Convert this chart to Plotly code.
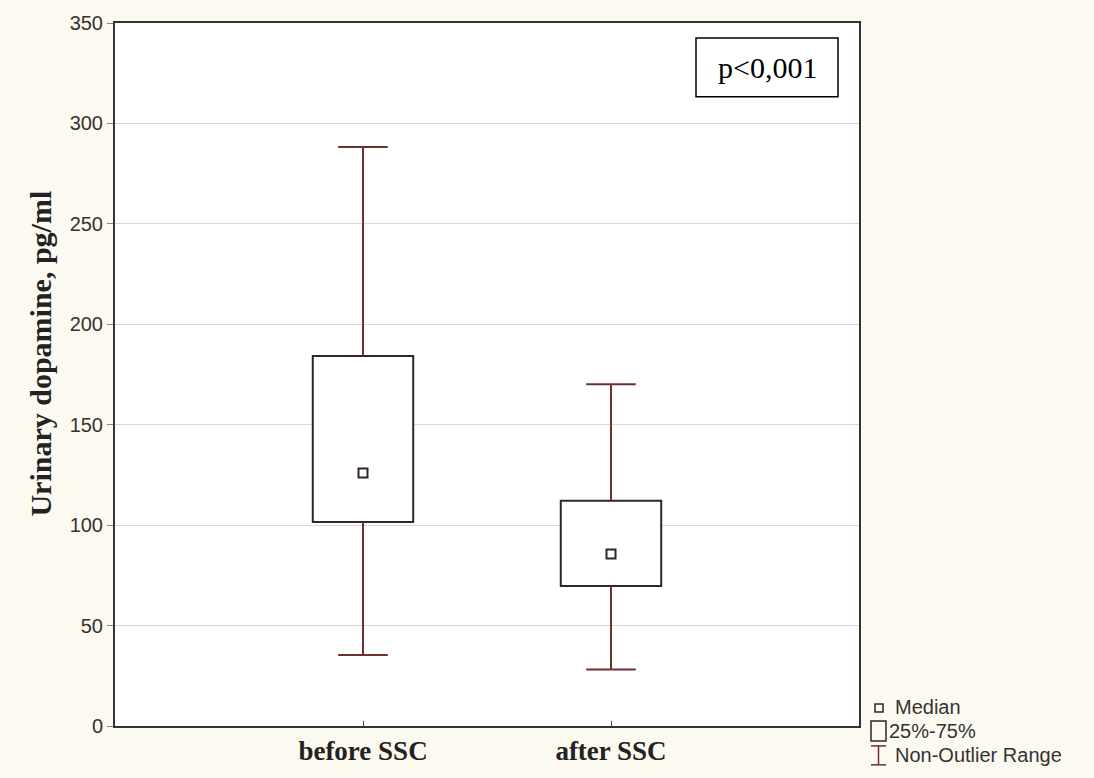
import plotly.graph_objects as go

# Urinary dopamine (pg/ml) before and after SSC
groups = ["before SSC", "after SSC"]
positions = [1, 2]
lower = [35.3, 28.1]     # non-outlier minimum
q1 = [101.6, 69.7]       # 25th percentile
median = [125.9, 85.6]
q3 = [184.2, 112.1]      # 75th percentile
upper = [288.3, 170.2]   # non-outlier maximum

y_ticks = [0, 50, 100, 150, 200, 250, 300, 350]

BOX_W = 0.405
CAP_HALF = 0.1
BOX_COLOR = "#302626"
WHISK_COLOR = "#6e2f2f"
BG = "#fcf9f0"

# plot area in pixels (for paper-coordinate decorations)
L, R, T, B = 115, 859, 23, 729
W, H = 1094, 778


def px(x):
    return (x - L) / (R - L)


def py(y):
    return (B - y) / (B - T)


fig = go.Figure()

# whisker stems and caps
wx, wy = [], []
for p, lo, a, b, hi in zip(positions, lower, q1, q3, upper):
    wx += [p, p, None, p, p, None,
           p - CAP_HALF, p + CAP_HALF, None, p - CAP_HALF, p + CAP_HALF, None]
    wy += [b, hi, None, a, lo, None, hi, hi, None, lo, lo, None]
fig.add_trace(go.Scatter(x=wx, y=wy, mode="lines",
                         line=dict(color=WHISK_COLOR, width=2),
                         hoverinfo="skip", showlegend=False))

# interquartile boxes
fig.add_trace(go.Bar(x=positions, base=q1,
                     y=[b - a for a, b in zip(q1, q3)],
                     width=BOX_W, marker=dict(color="white",
                                              line=dict(color=BOX_COLOR, width=2)),
                     showlegend=False))

# medians
fig.add_trace(go.Scatter(x=positions, y=median, mode="markers",
                         marker=dict(symbol="square-open", size=9,
                                     color=BOX_COLOR, line=dict(width=2)),
                         showlegend=False))

shapes = []
annotations = []

# p-value box
shapes.append(dict(type="rect", xref="paper", yref="paper",
                   x0=px(696), x1=px(838), y0=py(97), y1=py(38),
                   line=dict(color="black", width=1.5), fillcolor="white",
                   layer="above"))
annotations.append(dict(xref="paper", yref="paper", x=px(767), y=py(67.5),
                        text="p<0,001", showarrow=False,
                        font=dict(family="Liberation Serif", size=30, color="black"),
                        xanchor="center", yanchor="middle"))

# y-axis title
annotations.append(dict(xref="paper", yref="paper", x=px(41), y=py(355),
                        text="<b>Urinary dopamine, pg/ml</b>", textangle=-90,
                        showarrow=False,
                        font=dict(family="Liberation Serif", size=30, color="#222"),
                        xanchor="center", yanchor="middle"))

# legend key
legend_font = dict(family="Liberation Sans", size=20, color="#333")
shapes.append(dict(type="rect", xref="paper", yref="paper",
                   x0=px(875), x1=px(883), y0=py(715), y1=py(707),
                   line=dict(color=BOX_COLOR, width=1.5)))
shapes.append(dict(type="rect", xref="paper", yref="paper",
                   x0=px(871), x1=px(886), y0=py(744), y1=py(724),
                   line=dict(color=BOX_COLOR, width=1.5)))
shapes.append(dict(type="line", xref="paper", yref="paper",
                   x0=px(878.5), x1=px(878.5), y0=py(768), y1=py(749),
                   line=dict(color=WHISK_COLOR, width=1.5)))
for yy in (749, 768):
    shapes.append(dict(type="line", xref="paper", yref="paper",
                       x0=px(871), x1=px(886), y0=py(yy), y1=py(yy),
                       line=dict(color=WHISK_COLOR, width=1.5)))
for text, tx, ty in (("Median", 894, 710), ("25%-75%", 888, 734), ("Non-Outlier Range", 894, 758)):
    annotations.append(dict(xref="paper", yref="paper", x=px(tx), y=py(ty),
                            text=text, showarrow=False, font=legend_font,
                            xanchor="left", yanchor="middle", borderpad=0))

fig.update_layout(
    width=W, height=H,
    margin=dict(l=L, r=W - R, t=T, b=H - B),
    paper_bgcolor=BG, plot_bgcolor="white",
    shapes=shapes, annotations=annotations,
    showlegend=False,
    xaxis=dict(range=[0, 3], tickvals=positions, ticktext=groups,
               tickfont=dict(family="Liberation Serif", size=27, color="#222",
                             weight="bold"),
               ticks="inside", ticklen=5, tickcolor="#444",
               showgrid=False, zeroline=False,
               showline=True, linecolor="#333", linewidth=2, mirror=True),
    yaxis=dict(range=[0, 350], tickvals=y_ticks,
               tickfont=dict(family="Liberation Sans", size=20, color="#333"),
               ticks="outside", ticklen=6, tickcolor="#888",
               showgrid=True, gridcolor="#d8d8d8", gridwidth=1,
               zeroline=False,
               showline=True, linecolor="#333", linewidth=2, mirror=True),
)

fig.write_html("out.html")
